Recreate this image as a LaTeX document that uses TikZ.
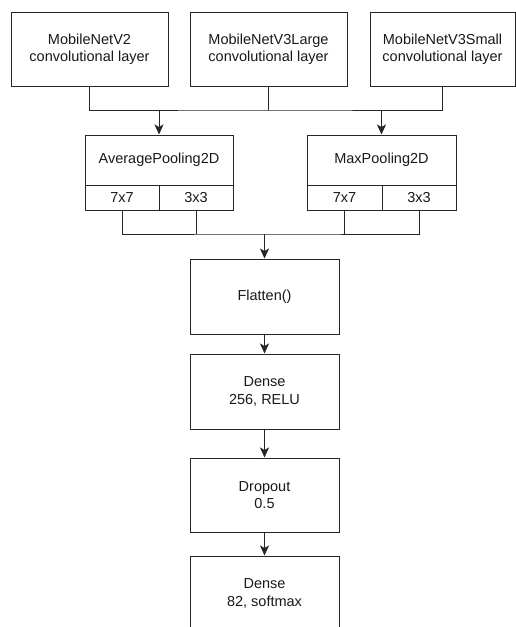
\documentclass[tikz,border=0pt]{standalone}
\usepackage{fontspec}
\setmainfont{Liberation Sans}
\usetikzlibrary{arrows.meta}
\begin{document}
\begin{tikzpicture}[x=1pt,y=-1pt,
  box/.style={draw=black!85, line width=1pt, fill=white, inner sep=0pt, align=center,
    font=\fontsize{14.5}{17.5}\selectfont, text=black!90},
  line/.style={draw=black!85, line width=1pt},
  arrow/.style={line, -{Stealth[length=10pt,width=9pt,inset=2.5pt]}}]
\path[use as bounding box, clip] (0,0) rectangle (516,627);
% top boxes
\node[box, minimum width=157pt, minimum height=74pt] (b1) at (89.5,49) {MobileNetV2\\convolutional layer};
\node[box, minimum width=157pt, minimum height=74pt] (b2) at (268.5,49) {MobileNetV3Large\\convolutional layer};
\node[box, minimum width=145pt, minimum height=74pt] (b3) at (442.5,49) {MobileNetV3Small\\convolutional layer};
% pooling
\node[box, minimum width=148pt, minimum height=50pt] (avg) at (159,160) {AveragePooling2D};
\node[box, minimum width=74pt, minimum height=25pt] (a7) at (122,197.5) {7x7};
\node[box, minimum width=74pt, minimum height=25pt] (a3) at (196,197.5) {3x3};
\node[box, minimum width=149pt, minimum height=50pt] (max) at (381.5,160) {MaxPooling2D};
\node[box, minimum width=75pt, minimum height=25pt] (m7) at (344.5,197.5) {7x7};
\node[box, minimum width=74pt, minimum height=25pt] (m3) at (419,197.5) {3x3};
% lower chain
\node[box, minimum width=149pt, minimum height=75pt] (flat) at (264.5,296.5) {Flatten()};
\node[box, minimum width=149pt, minimum height=75pt] (dense1) at (264.5,391.5) {Dense\\256, RELU};
\node[box, minimum width=149pt, minimum height=74pt] (drop) at (264.5,495) {Dropout\\0.5};
\node[box, minimum width=149pt, minimum height=75pt] (dense2) at (264.5,593.5) {Dense\\82, softmax};
% bus 1
\coordinate (bus1) at (264.5,110);
\draw[line] (b1.south) |- (bus1) -| (b3.south);
\draw[line] (b2.south) -- (b2.south |- bus1);
\draw[arrow] (avg.north |- bus1) -- (avg.north);
\draw[arrow] (max.north |- bus1) -- (max.north);
% bus 2
\coordinate (bus2) at (264.5,234);
\draw[line] (a7.south) |- (bus2) -| (m3.south);
\draw[line] (a3.south) -- (a3.south |- bus2);
\draw[line] (m7.south) -- (m7.south |- bus2);
\draw[arrow] (bus2) -- (flat.north);
% chain
\draw[arrow] (flat.south) -- (dense1.north);
\draw[arrow] (dense1.south) -- (drop.north);
\draw[arrow] (drop.south) -- (dense2.north);
\end{tikzpicture}
\end{document}
